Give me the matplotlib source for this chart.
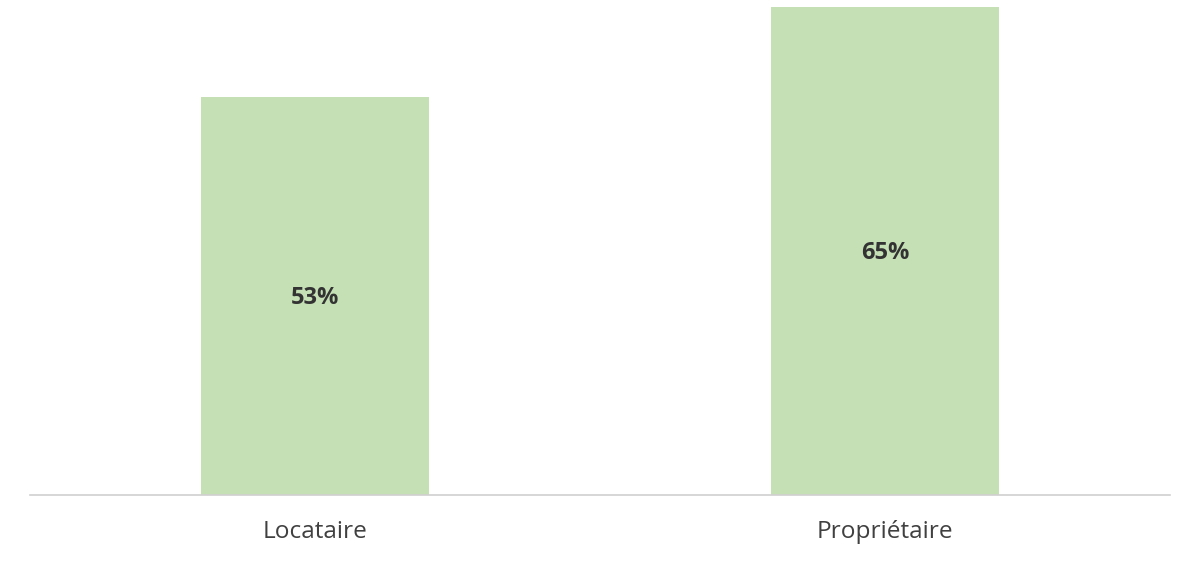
import matplotlib
matplotlib.use("Agg")
import matplotlib.pyplot as plt

categories = ["Locataire", "Propriétaire"]
values = [53, 65]
value_labels = ["53%", "65%"]

plt.rcParams['font.family'] = ['Open Sans', 'DejaVu Sans']

fig = plt.figure(figsize=(12, 5.66), dpi=100)
ax = fig.add_axes([0.025, 0.1254, 0.95, 0.8746])

x = range(len(categories))
bars = ax.bar(x, values, width=0.4, color='#C5E0B4')

for bar, lab in zip(bars, value_labels):
    ax.text(bar.get_x() + bar.get_width() / 2, bar.get_height() / 2 - 0.2, lab,
            ha='center', va='center', fontsize=17, fontweight='bold', color='#333333')

ax.set_xlim(-0.5, 1.5)
ax.set_ylim(0, 65 * 495 / 488)
ax.set_xticks(list(x))
ax.set_xticklabels(categories, fontsize=17.6, color='#404040')
ax.tick_params(axis='x', length=0, pad=18)
ax.set_yticks([])
for s in ['top', 'left', 'right']:
    ax.spines[s].set_visible(False)
ax.spines['bottom'].set_color('#D0D0D0')
ax.spines['bottom'].set_linewidth(1.2)

fig.savefig("out.png", dpi=100, facecolor='white')
